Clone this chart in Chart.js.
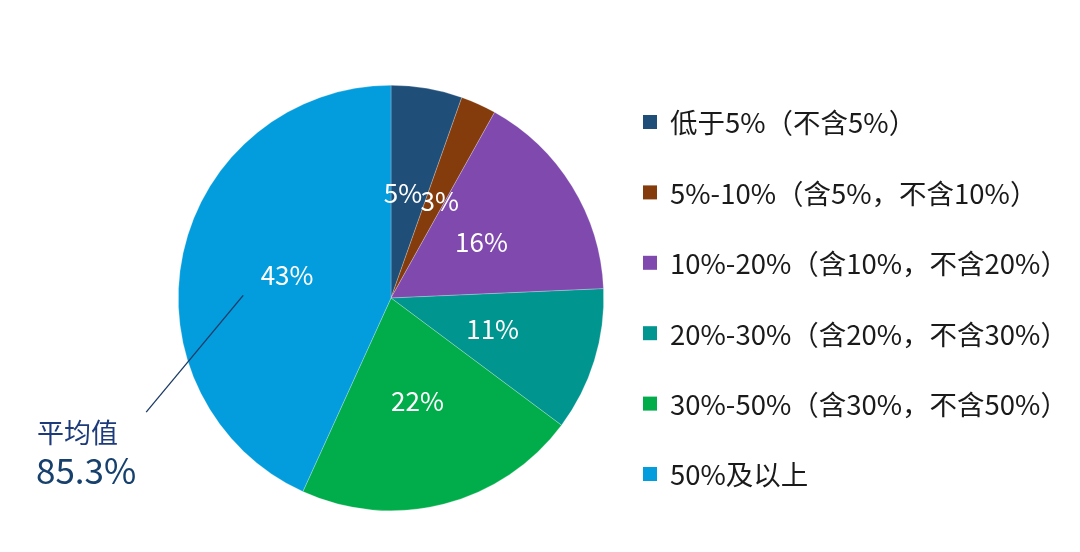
<!DOCTYPE html>
<html><head><meta charset="utf-8">
<script src="https://cdn.jsdelivr.net/npm/chart.js@4"></script>
<style>html,body{margin:0;padding:0;background:#fff}#wrap{width:1080px;height:552px}</style>
</head><body><div id="wrap"><canvas id="c" width="1080" height="552"></canvas></div>
<script>
const categories = ['低于5%（不含5%）','5%-10%（含5%，不含10%）','10%-20%（含10%，不含20%）','20%-30%（含20%，不含30%）','30%-50%（含30%，不含50%）','50%及以上'];
const shares = [5.4, 2.7, 16.2, 10.9, 21.6, 43.2];
const sliceLabels = ['5%','3%','16%','11%','22%','43%'];
const colors = ['#1f4e79','#843c0c','#7f49ae','#00958f','#00ad4a','#039cdd'];
const noteTitle = '平均值';
const noteValue = '85.3%';
const FONT = '"Noto Sans CJK SC","Noto Sans",sans-serif';
const labelNudge = [-6, 5, 0, 0, 0, 0];

const overlay = {
  id:'overlay',
  afterDatasetsDraw(chart){
    const ctx = chart.ctx;
    const arcs = chart.getDatasetMeta(0).data;
    ctx.save();
    ctx.fillStyle = '#fff';
    ctx.font = '26px ' + FONT;
    ctx.textAlign = 'center';
    ctx.textBaseline = 'middle';
    arcs.forEach((a,i)=>{
      const mid = (a.startAngle + a.endAngle)/2;
      const r = a.outerRadius*0.5;
      ctx.fillText(sliceLabels[i], a.x + Math.cos(mid)*r + labelNudge[i], a.y + Math.sin(mid)*r);
    });
    // legend
    const lx = 643, ly0 = 122, step = 70.4;
    ctx.textAlign = 'left';
    ctx.font = '27.5px ' + FONT;
    categories.forEach((t,i)=>{
      const y = ly0 + step*i;
      ctx.fillStyle = colors[i];
      ctx.fillRect(lx, y-7, 14, 14);
      ctx.fillStyle = '#1a1a1a';
      ctx.fillText(t, lx+27, y+1);
    });
    // annotation
    const a0 = arcs[0];
    const cx = a0.x, cy = a0.y, R = a0.outerRadius;
    const ang1 = (271-90)*Math.PI/180, ang2 = (245-90)*Math.PI/180;
    ctx.strokeStyle = '#1b3a66';
    ctx.lineWidth = 1.3;
    ctx.beginPath();
    ctx.moveTo(cx + Math.cos(ang1)*R*0.695, cy + Math.sin(ang1)*R*0.695);
    ctx.lineTo(cx + Math.cos(ang2)*R*1.27, cy + Math.sin(ang2)*R*1.27);
    ctx.stroke();
    ctx.fillStyle = '#1d3a7a';
    ctx.font = '27px ' + FONT;
    ctx.textBaseline = 'middle';
    ctx.fillText(noteTitle, 37, 433);
    ctx.fillStyle = '#17406d';
    ctx.font = '35px ' + FONT;
    ctx.textBaseline = 'alphabetic';
    ctx.fillText(noteValue, 36, 484);
    ctx.restore();
  }
};

new Chart(document.getElementById('c'), {
  type:'pie',
  data:{labels:categories, datasets:[{data:shares, backgroundColor:colors, borderColor:'rgba(255,255,255,0.4)', borderWidth:0.6}]},
  options:{
    responsive:false, animation:false,
    layout:{padding:{top:85,bottom:41,left:178,right:476}},
    plugins:{legend:{display:false}, tooltip:{enabled:false}}
  },
  plugins:[overlay]
});
</script></body></html>
